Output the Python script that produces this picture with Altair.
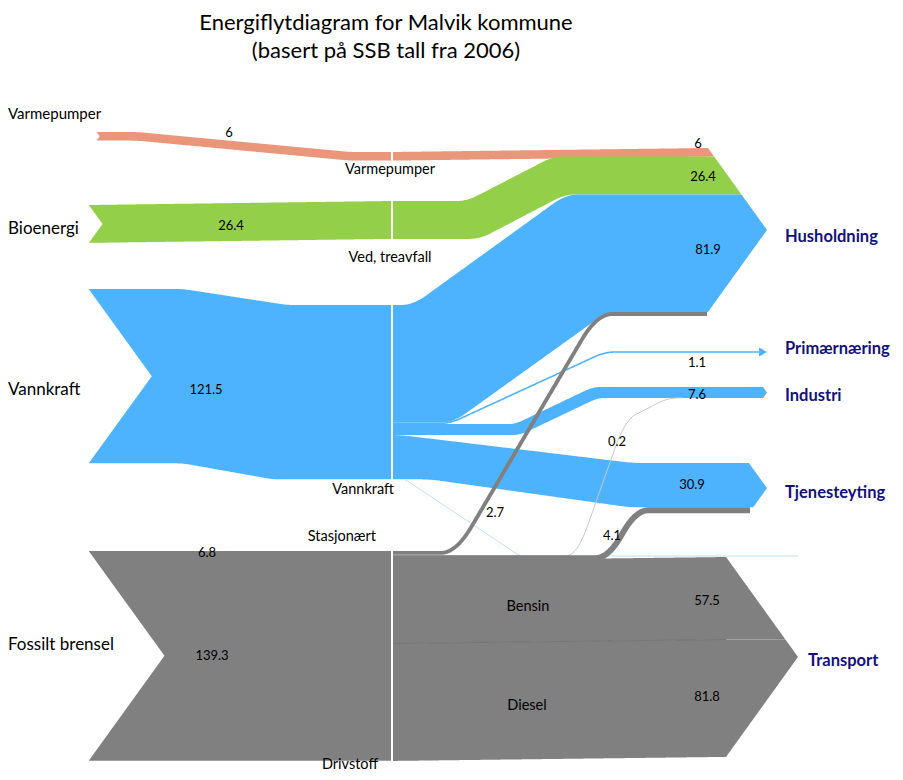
import numpy as np
import pandas as pd
import altair as alt

# ------------------------------------------------------------------ data
title_lines = ["Energiflytdiagram for Malvik kommune", "(basert på SSB tall fra 2006)"]

sources = ["Varmepumper", "Bioenergi", "Vannkraft", "Fossilt brensel"]
source_values = [6, 26.4, 121.5, 146.1]
carriers = ["Varmepumper", "Ved, treavfall", "Vannkraft", "Stasjonært", "Drivstoff"]
carrier_values = [6, 26.4, 121.5, 6.8, 139.3]
targets = ["Husholdning", "Primærnæring", "Industri", "Tjenesteyting", "Transport"]

flow_source = ["Varmepumper", "Bioenergi", "Vannkraft", "Vannkraft", "Vannkraft",
               "Vannkraft", "Stasjonært", "Stasjonært", "Stasjonært", "Bensin", "Diesel"]
flow_target = ["Husholdning", "Husholdning", "Husholdning", "Primærnæring", "Industri",
               "Tjenesteyting", "Husholdning", "Industri", "Tjenesteyting", "Transport", "Transport"]
flow_value = [6, 26.4, 81.9, 1.1, 7.6, 30.9, 2.7, 0.2, 4.1, 57.5, 81.8]
fuel_names = ["Bensin", "Diesel"]

# ------------------------------------------------------------------ layout (page pixels)
K = 1.435                      # pixels per unit of energy
XL, XM, XTIP = 89, 392, 767    # left edge, middle column, arrow tips
ARW = 0.72                     # arrow depth per half height
L_top = {"Varmepumper": 132, "Bioenergi": 205, "Vannkraft": 289, "Fossilt brensel": 551}
M_top = {"Varmepumper": 152, "Bioenergi": 201, "Vannkraft": 305, "Fossilt brensel": 551}
T_top = {"Husholdning": 148, "Primærnæring": 352, "Industri": 387, "Tjenesteyting": 463, "Transport": 557}

C_ORANGE, C_GREEN, C_BLUE, C_GREY = "#E9967A", "#94CF4A", "#4DB3FF", "#808080"
C_NAVY = "#12107E"
FONT = "Lato"

fv = dict(zip(zip(flow_source, flow_target), flow_value))
sv = dict(zip(sources, source_values))
h = lambda v: v * K

xscale = alt.Scale(domain=[8, 895], nice=False, zero=False)
yscale = alt.Scale(domain=[8, 772], nice=False, zero=False, reverse=True)
X = alt.X("x:Q", scale=xscale, axis=None)
Y = alt.Y("y:Q", scale=yscale, axis=None)


def edge(xs, pts, win):
    px, py = zip(*pts)
    y = np.interp(xs, px, py)
    if win > 1:
        pad = win // 2
        yp = np.pad(y, pad, mode="edge")
        y = np.convolve(yp, np.ones(win) / win, mode="valid")
    return y


def band(x0, x1, top_pts, bot_pts, win=1, arrow=None):
    xs = np.arange(x0, x1 + 0.01, 1.0)
    yt = edge(xs, top_pts, win)
    yb = edge(xs, bot_pts, win)
    if arrow is not None:
        corner, tip, T, B = arrow
        mid = (T + B) / 2
        m = xs > corner
        at = T + (xs - corner) * (mid - T) / (tip - corner)
        ab = B - (xs - corner) * (B - mid) / (tip - corner)
        yt = np.where(m, np.maximum(yt, at), yt)
        yb = np.where(m, np.minimum(yb, ab), yb)
        yb = np.where(yb < yt, yt, yb)
    return pd.DataFrame({"x": xs, "y": yt, "y2": yb})


def line(pts, win=1, step=1.0):
    px = [p[0] for p in pts]
    xs = np.arange(px[0], px[-1] + 0.01, step)
    return pd.DataFrame({"x": xs, "y": edge(xs, pts, win), "i": np.arange(len(xs))})


def area_layer(df, color):
    return alt.Chart(df).mark_area(color=color, stroke=None).encode(x=X, y=Y, y2="y2:Q")


def line_layer(df, color, width):
    return alt.Chart(df).mark_line(color=color, strokeWidth=width, strokeCap="butt",
                                   strokeJoin="round").encode(x=X, y=Y, order="i:Q")


def arrow_of(top, total, tip=XTIP):
    half = h(total) / 2
    return (tip - ARW * half, tip, top, top + h(total))


layers = []

# ------------------------------------------------------------------ left bands (sources -> middle)
src_col = {"Varmepumper": C_ORANGE, "Bioenergi": C_GREEN, "Vannkraft": C_BLUE, "Fossilt brensel": C_GREY}
src_x0 = {"Varmepumper": 97, "Bioenergi": XL, "Vannkraft": XL, "Fossilt brensel": XL}
bend = {  # x of top bend start/end, bottom bend start/end
    "Varmepumper": (137, 350, 137, 350),
    "Bioenergi": (XL, XM, XL, XM),
    "Vannkraft": (183, 287, 183, 273),
    "Fossilt brensel": (XL, XM, XL, XM),
}
notches = []
for s in sources:
    hh = h(sv[s])
    lt, mt = L_top[s], M_top[s]
    a, b, c, d = bend[s]
    x0 = src_x0[s]
    df = band(x0, XM, [(x0, lt), (a, lt), (b, mt), (XM, mt)],
              [(x0, lt + hh), (c, lt + hh), (d, mt + hh), (XM, mt + hh)], win=15)
    layers.append(area_layer(df, src_col[s]))
    depth = ARW * hh / 2 if hh > 20 else 0.6 * hh / 2
    mid = lt + hh / 2
    notches.append(pd.DataFrame({"x": [x0 - 1, x0 + depth], "y": [lt - 1, mid], "y2": [lt + hh + 1, mid]}))
for nd in notches:
    layers.append(area_layer(nd, "white"))

# ------------------------------------------------------------------ middle stacks
hus_total = fv[("Varmepumper", "Husholdning")] + fv[("Bioenergi", "Husholdning")] + fv[("Vannkraft", "Husholdning")]
hus_arrow = arrow_of(T_top["Husholdning"], hus_total)
vp = fv[("Varmepumper", "Husholdning")]
bio = fv[("Bioenergi", "Husholdning")]
vh = fv[("Vannkraft", "Husholdning")]
vpri = fv[("Vannkraft", "Primærnæring")]
vind = fv[("Vannkraft", "Industri")]
vtj = fv[("Vannkraft", "Tjenesteyting")]
s_h = fv[("Stasjonært", "Husholdning")]
s_i = fv[("Stasjonært", "Industri")]
s_t = fv[("Stasjonært", "Tjenesteyting")]
ben = fv[("Bensin", "Transport")]
die = fv[("Diesel", "Transport")]

# Varmepumper -> Husholdning
m0 = M_top["Varmepumper"]
r0 = T_top["Husholdning"]
layers.append(area_layer(band(XM, XTIP, [(XM, m0), (hus_arrow[0], r0)],
                              [(XM, m0 + h(vp)), (hus_arrow[0], r0 + h(vp))], arrow=hus_arrow), C_ORANGE))
# Bioenergi -> Husholdning
m0 = M_top["Bioenergi"]
r1 = r0 + h(vp)
layers.append(area_layer(band(XM, XTIP, [(XM, m0), (467, m0), (553, r1)],
                              [(XM, m0 + h(bio)), (480, m0 + h(bio)), (565, r1 + h(bio))],
                              win=21, arrow=hus_arrow), C_GREEN))
# Vannkraft -> Husholdning
m0 = M_top["Vannkraft"]
r2 = r1 + h(bio)
layers.append(area_layer(band(XM, XTIP, [(XM, m0), (413, m0), (566, r2)],
                              [(XM, m0 + h(vh)), (453, m0 + h(vh)), (607, r2 + h(vh))],
                              win=25, arrow=hus_arrow), C_BLUE))
# Vannkraft -> Industri
mi = m0 + h(vh) + h(vpri)
ti = T_top["Industri"]
ind_arrow = arrow_of(ti, vind + s_i)
layers.append(area_layer(band(XM, XTIP, [(XM, mi), (515, mi), (593, ti)],
                              [(XM, mi + h(vind)), (520, mi + h(vind)), (598, ti + h(vind))],
                              win=15, arrow=ind_arrow), C_BLUE))
# Vannkraft -> Tjenesteyting
mt = mi + h(vind)
tt = T_top["Tjenesteyting"]
tj_arrow = arrow_of(tt, vtj + s_t)
layers.append(area_layer(band(XM, XTIP, [(XM, mt), (400, mt), (633, tt)],
                              [(XM, mt + h(vtj)), (430, mt + h(vtj)), (630, tt + h(vtj))],
                              win=21, arrow=tj_arrow), C_BLUE))
# Bensin / Diesel -> Transport
ftop = M_top["Fossilt brensel"] + h(s_h + s_i + s_t)
trt = T_top["Transport"]
tr_arrow = arrow_of(trt, ben + die, tip=798)
layers.append(area_layer(band(XM, 798, [(XM, ftop), (tr_arrow[0], trt)],
                              [(XM, ftop + h(ben)), (tr_arrow[0], trt + h(ben))], arrow=tr_arrow), C_GREY))
layers.append(area_layer(band(XM, 798, [(XM, ftop + h(ben)), (tr_arrow[0], trt + h(ben))],
                              [(XM, ftop + h(ben + die)), (tr_arrow[0], trt + h(ben + die))],
                              arrow=tr_arrow), C_GREY))
layers.append(line_layer(line([(XM + 1, ftop + h(ben)), (tr_arrow[0], trt + h(ben))]), "#747474", 1))

# Vannkraft hairline towards transport
vbot = mt + h(vtj)
layers.append(line_layer(line([(405, vbot), (520, trt - 1), (798, trt - 1)], win=9), "#A8D8FA", 0.8))

# Primærnæring line + small arrowhead
py0 = m0 + h(vh) + h(vpri) / 2
pt = T_top["Primærnæring"]
layers.append(line_layer(line([(XM, py0), (450, py0), (605, pt), (761, pt)], win=21), C_BLUE, max(h(vpri), 1.2)))
layers.append(area_layer(pd.DataFrame({"x": [759, XTIP], "y": [pt - 4.5, pt], "y2": [pt + 4.5, pt]}), C_BLUE))

# Stasjonært lines
st0 = M_top["Fossilt brensel"]
c_h = st0 + h(s_h) / 2
c_i = st0 + h(s_h) + h(s_i) / 2 + 0.5
c_t = st0 + h(s_h + s_i) + h(s_t) / 2
hus_bot = r2 + h(vh)
layers.append(line_layer(line([(XM, c_i), (577, c_i), (625, 420), (668, ti + h(vind)), (682, ti + h(vind))], win=21),
                         "#C8C8C8", 1))
layers.append(line_layer(line([(XM, c_h), (456, c_h), (597, hus_bot + h(s_h) / 2),
                               (hus_arrow[0], hus_bot + h(s_h) / 2)], win=31), C_GREY, h(s_h)))
layers.append(line_layer(line([(XM, c_t), (608, c_t), (636, tt + h(vtj) + h(s_t) / 2),
                               (tj_arrow[0] + 2, tt + h(vtj) + h(s_t) / 2)], win=25), C_GREY, h(s_t)))

# White separators in the middle column
sep = pd.DataFrame({
    "x": [XM] * 4,
    "y": [M_top[s] for s in sources],
    "y2": [M_top[s] + h(sv[s]) for s in sources[:3]] + [M_top["Fossilt brensel"] + h(sv["Fossilt brensel"]) + 4],
})
layers.append(alt.Chart(sep).mark_rule(color="white", strokeWidth=2).encode(x=X, y=Y, y2="y2:Q"))

# ------------------------------------------------------------------ texts
def text_layer(df, size, color="black", align="center", weight="normal", font=FONT):
    return alt.Chart(df).mark_text(align=align, baseline="middle", fontSize=size, color=color,
                                   fontWeight=weight, font=font).encode(x=X, y=Y, text="t:N")

fmt = lambda v: f"{v:g}"

layers.append(text_layer(pd.DataFrame({"x": [386, 386], "y": [23, 51], "t": title_lines}), 22))

layers.append(text_layer(pd.DataFrame({"x": [8], "y": [114], "t": [sources[0]]}), 15, align="left"))
layers.append(text_layer(pd.DataFrame({"x": [8, 8, 8], "y": [229, 390, 645], "t": sources[1:]}), 17, align="left"))

layers.append(text_layer(pd.DataFrame({"x": [390, 390, 350], "y": [170, 258, 765],
                                       "t": [carriers[0], carriers[1], carriers[4]]}), 14.5))
layers.append(text_layer(pd.DataFrame({"x": [394, 376], "y": [490, 537],
                                       "t": [carriers[2], carriers[3]]}), 14.5, align="right"))
layers.append(text_layer(pd.DataFrame({"x": [528, 527], "y": [607, 706], "t": fuel_names}), 14.5))

left_vals = pd.DataFrame({"x": [229, 231, 206, 207, 212], "y": [133, 226, 390, 553, 656],
                          "t": [fmt(v) for v in carrier_values]})
layers.append(text_layer(left_vals, 13))
right_vals = pd.DataFrame({
    "x": [698, 703, 708, 697, 697, 692, 495, 617, 612, 707, 707],
    "y": [144, 177, 250, 363, 395, 485, 513, 442, 536, 601, 697],
    "t": [fmt(v) for v in [vp, bio, vh, vpri, vind, vtj, s_h, s_i, s_t, ben, die]],
})
layers.append(text_layer(right_vals, 13))

layers.append(text_layer(pd.DataFrame({"x": [785, 785, 785, 785, 808], "y": [237, 349, 396, 493, 661],
                                       "t": targets}), 16.5, color=C_NAVY, align="left", weight="bold"))

chart = alt.layer(*layers).properties(width=887, height=764, padding=0, autosize="none").configure_view(stroke=None)
chart.save("out.html", embed_options={"renderer": "svg", "actions": False})
